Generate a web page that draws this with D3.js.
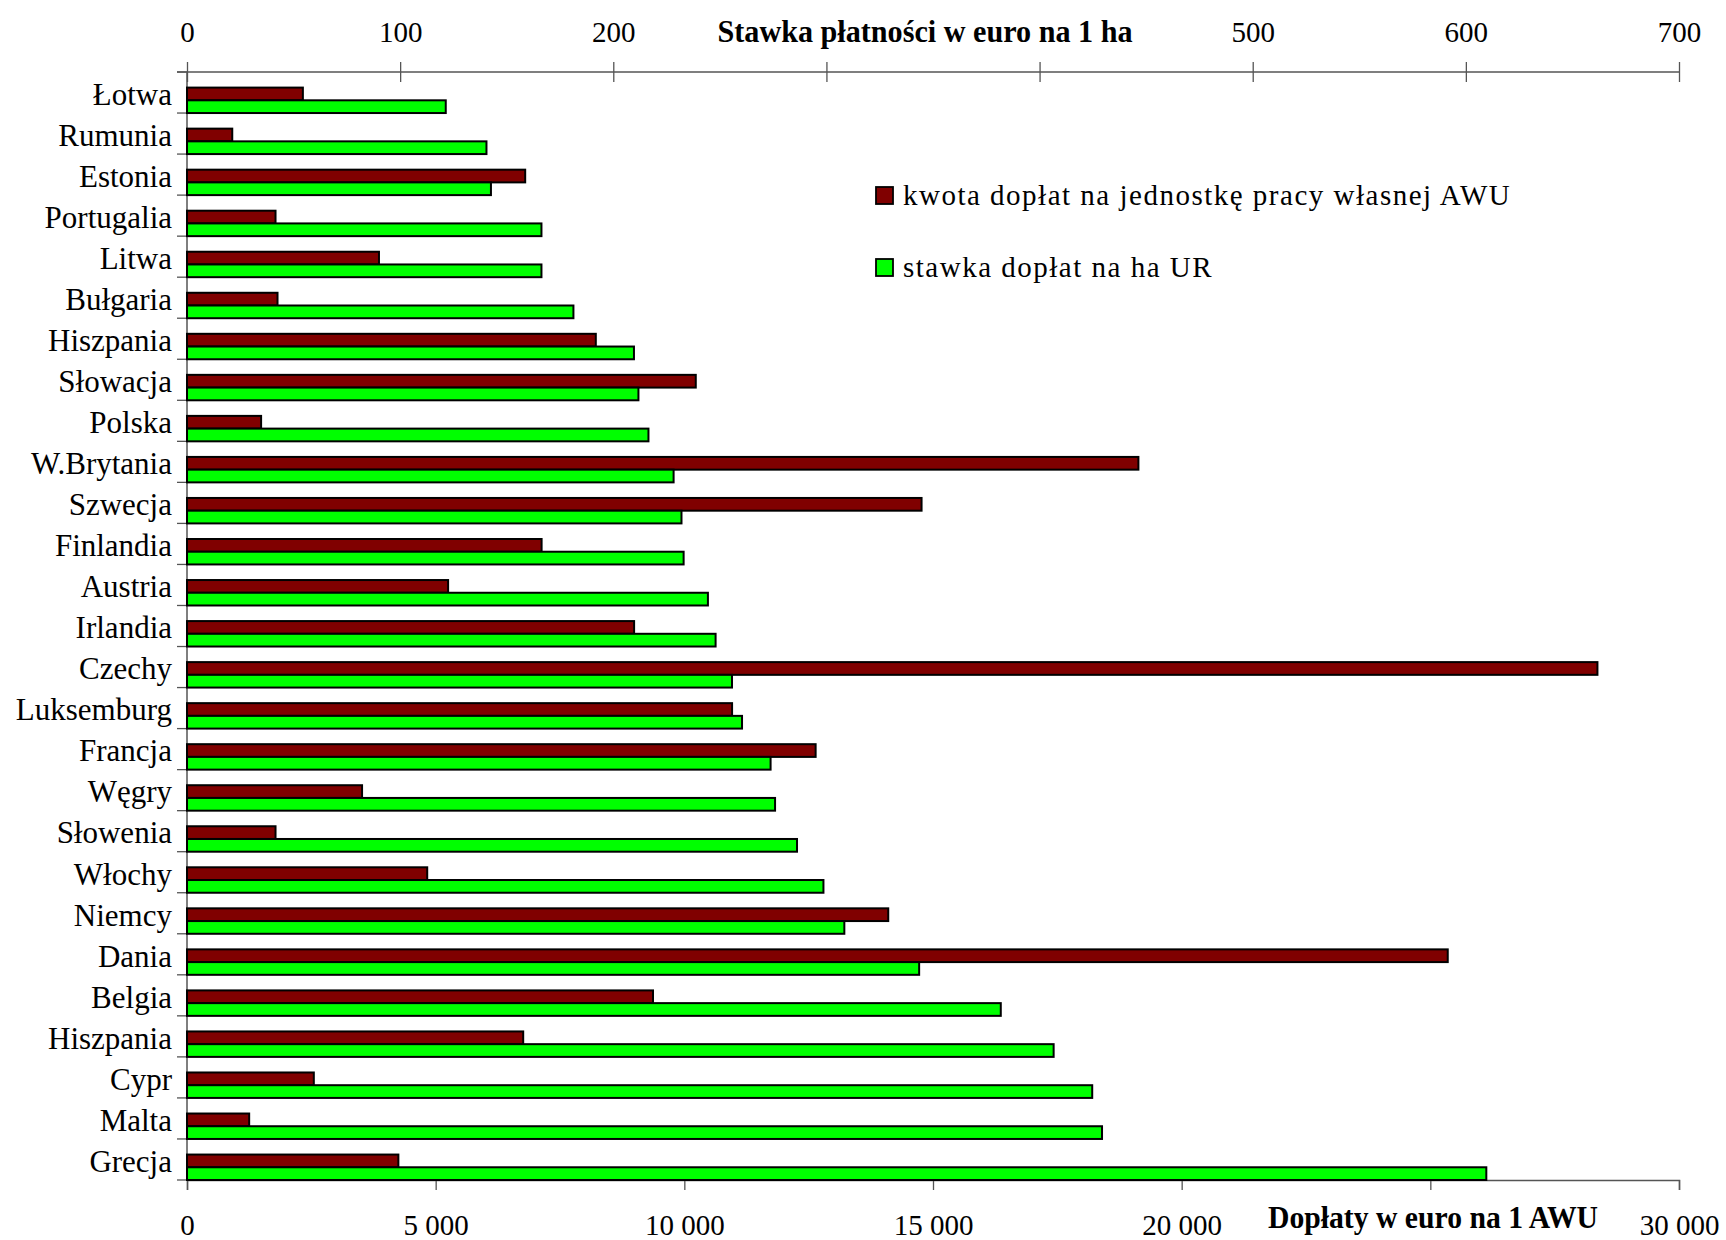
<!DOCTYPE html>
<html>
<head>
<meta charset="utf-8">
<script src="https://cdn.jsdelivr.net/npm/d3@7"></script>
<style>
  body { margin: 0; background: #fff; }
  text { font-family: "Liberation Serif", "Times New Roman", serif; fill: #000; }
</style>
</head>
<body>
<svg id="chart" width="1726" height="1240"></svg>
<script>
// kraje, od gory do dolu
const countries = ["Łotwa", "Rumunia", "Estonia", "Portugalia", "Litwa", "Bułgaria", "Hiszpania",
    "Słowacja", "Polska", "W.Brytania", "Szwecja", "Finlandia", "Austria", "Irlandia", "Czechy",
    "Luksemburg", "Francja", "Węgry", "Słowenia", "Włochy", "Niemcy", "Dania", "Belgia",
    "Hiszpania ", "Cypr", "Malta", "Grecja"];

// doplaty w euro na 1 AWU (os dolna)
const awuValues = [2330, 910, 6800, 1780, 3860, 1820, 8220, 10230, 1490, 19130, 14770, 7130,
    5250, 8990, 28360, 10960, 12640, 3520, 1780, 4830, 14100, 25350, 9370, 6760, 2550, 1250, 4250];

// stawka w euro na 1 ha UR (os gorna)
const haValues = [121.4, 140.5, 142.6, 166.3, 166.3, 181.3, 209.7, 211.8, 216.5, 228.3, 232.0,
    233.0, 244.4, 248.0, 255.7, 260.4, 273.8, 275.9, 286.2, 298.6, 308.4, 343.5, 381.8, 406.6,
    424.7, 429.3, 609.6];

const topTicks = [0, 100, 200, 300, 400, 500, 600, 700];
const topHidden = [300, 400];          // zasloniete przez tytul osi
const bottomTicks = [0, 5000, 10000, 15000, 20000, 25000, 30000];
const bottomHidden = [25000];

const seriesNames = ["kwota dopłat na jednostkę pracy własnej AWU", "stawka dopłat na ha UR"];
const seriesColors = ["#800000", "#00ff00"];

const titleTop = "Stawka płatności w euro na 1 ha";
const titleBottom = "Dopłaty w euro na 1 AWU";

const svg = d3.select("#chart");
const W = 1726, H = 1240;
const margin = {left: 187, right: W - 1679, top: 72, bottom: H - 1180};

const xTop = d3.scaleLinear().domain([0, 700]).range([margin.left, W - margin.right]);
const xBot = d3.scaleLinear().domain([0, 30000]).range([margin.left, W - margin.right]);
const y = d3.scaleBand().domain(d3.range(countries.length)).range([margin.top, H - margin.bottom]);
const barH = y.bandwidth() * 0.31;

const fmt = d => d3.format(",")(d).replace(/,/g, " ");

// osie
const topAxis = svg.append("g")
    .attr("transform", `translate(0,${margin.top})`)
    .call(d3.axisTop(xTop).tickValues(topTicks).tickSizeOuter(0)
        .tickFormat(d => topHidden.includes(d) ? "" : d).tickSize(10).tickPadding(20));
topAxis.selectAll(".tick line").attr("y1", 10).attr("y2", -10);
topAxis.selectAll(".tick text").attr("y", -30).attr("dy", 0);

const botAxis = svg.append("g")
    .attr("transform", `translate(0,${H - margin.bottom})`)
    .call(d3.axisBottom(xBot).tickValues(bottomTicks).tickSizeOuter(0)
        .tickFormat(d => bottomHidden.includes(d) ? "" : fmt(d)).tickSize(10));
botAxis.selectAll(".tick text").attr("y", 55).attr("dy", 0);

[topAxis, botAxis].forEach(a => {
    a.select(".domain").attr("stroke", "#555").attr("stroke-width", 1.5);
    a.selectAll(".tick line").attr("stroke", "#555").attr("stroke-width", 1.3);
    a.selectAll(".tick text").attr("font-size", 29).attr("font-family", "Liberation Serif");
});
topAxis.select(".domain").attr("d", `M${margin.left - 10},0H${W - margin.right}`);

// os kategorii
const yAxis = svg.append("g").attr("transform", `translate(${margin.left},0)`);
yAxis.append("line")
    .attr("x1", 0).attr("x2", 0)
    .attr("y1", margin.top).attr("y2", H - margin.bottom)
    .attr("stroke", "#555").attr("stroke-width", 1.5);
yAxis.selectAll("line.tick")
    .data(d3.range(countries.length + 1))
    .join("line")
    .attr("class", "tick")
    .attr("x1", -10).attr("x2", 0)
    .attr("y1", i => margin.top + i * y.step())
    .attr("y2", i => margin.top + i * y.step())
    .attr("stroke", "#555").attr("stroke-width", 1.3);
yAxis.selectAll("text")
    .data(countries)
    .join("text")
    .attr("x", -15)
    .attr("y", (d, i) => y(i) + y.bandwidth() * 0.8)
    .attr("text-anchor", "end")
    .attr("font-size", 31)
    .text(d => d.trim());

// slupki
const groups = svg.append("g")
    .selectAll("g")
    .data(countries)
    .join("g")
    .attr("transform", (d, i) => `translate(0,${y(i)})`);

groups.append("rect")
    .attr("x", xBot(0))
    .attr("y", y.bandwidth() - 2 * barH)
    .attr("width", (d, i) => xBot(awuValues[i]) - xBot(0))
    .attr("height", barH)
    .attr("fill", seriesColors[0])
    .attr("stroke", "#000").attr("stroke-width", 2);

groups.append("rect")
    .attr("x", xTop(0))
    .attr("y", y.bandwidth() - barH)
    .attr("width", (d, i) => xTop(haValues[i]) - xTop(0))
    .attr("height", barH)
    .attr("fill", seriesColors[1])
    .attr("stroke", "#000").attr("stroke-width", 2);

// tytuly osi
svg.append("text")
    .attr("x", 925).attr("y", 42)
    .attr("text-anchor", "middle")
    .attr("font-size", 32).attr("font-weight", "bold")
    .attr("textLength", 415).attr("lengthAdjust", "spacingAndGlyphs")
    .text(titleTop);

svg.append("text")
    .attr("x", 1433).attr("y", 1228)
    .attr("text-anchor", "middle")
    .attr("font-size", 31).attr("font-weight", "bold")
    .attr("textLength", 330).attr("lengthAdjust", "spacingAndGlyphs")
    .text(titleBottom);

// legenda
const legend = svg.append("g").attr("transform", "translate(876,187)");
const li = legend.selectAll("g")
    .data(seriesNames)
    .join("g")
    .attr("transform", (d, i) => `translate(0,${i * 72})`);
li.append("rect")
    .attr("width", 17).attr("height", 17)
    .attr("fill", (d, i) => seriesColors[i])
    .attr("stroke", "#000").attr("stroke-width", 1.8);
li.append("text")
    .attr("x", 27).attr("y", 18)
    .attr("font-size", 29)
    .attr("letter-spacing", 1.5)
    .text(d => d);
</script>
</body>
</html>
